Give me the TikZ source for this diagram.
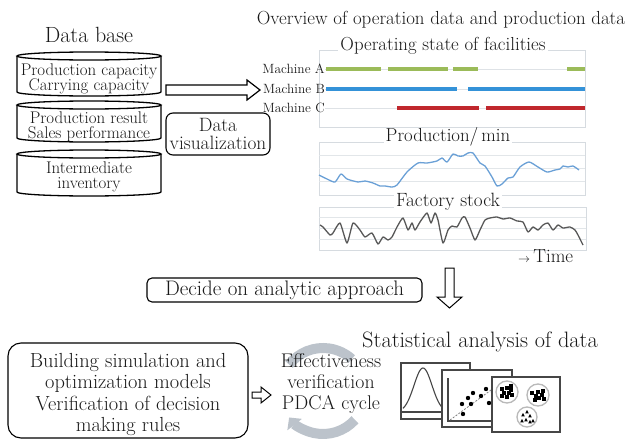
\documentclass[tikz,border=0pt]{standalone}
\usepackage{fontspec}
\usetikzlibrary{arrows.meta}
\definecolor{machA}{RGB}{155,187,89}
\definecolor{machB}{RGB}{52,146,216}
\definecolor{machC}{RGB}{192,39,45}
\definecolor{prodline}{RGB}{106,160,214}
\definecolor{stockline}{RGB}{88,88,88}
\definecolor{framegray}{RGB}{214,219,224}
\definecolor{cyclegray}{RGB}{188,195,203}
\definecolor{inkgray}{RGB}{70,70,70}
\tikzset{
  txt/.style={inner sep=0pt, align=center, text=black!90},
  fs/.style 2 args={font=\fontsize{#1}{#2}\selectfont},
  rbox/.style={draw, line width=1.1pt, rounded corners=#1},
  cylline/.style={line width=1.3pt},
  chartframe/.style={draw=framegray, line width=1pt},
  gridline/.style={draw=framegray!70, line width=0.6pt},
  rowline/.style={draw=framegray!80, line width=0.8pt},
  seg/.style={line width=4pt, draw=#1},
  blockarrow/.style={draw, line width=1.2pt, fill=white, line join=miter},
  statframe/.style={draw=inkgray, line width=1.2pt, fill=white},
  cluster/.style={draw=gray!55, line width=1.3pt},
}
\newcommand{\cylinder}[3]{% top y, bottom y, name
  \draw[cylline] (17,#1) -- (17,#2) arc[start angle=180, end angle=360, x radius=72pt, y radius=4pt] -- (161,#1);
  \draw[cylline, fill=white] (89,#1) ellipse[x radius=72pt, y radius=4pt];
  \coordinate (#3) at (89,{(#1+#2)/2});
}
\begin{document}
\begin{tikzpicture}[x=1pt, y=-1pt]
\useasboundingbox (0,0) rectangle (627,439);

% ---------------- database ----------------
\node[txt, fs={22}{22}] (dbtitle) at (89,35) {Data base};
\cylinder{56}{92}{cylA}
\cylinder{105}{138}{cylB}
\cylinder{154}{192}{cylC}
\node[txt, fs={16.9}{15.5}] (capa) at (89,79) {Production capacity\\Carrying capacity};
\node[txt, fs={16.9}{15.5}] (result) at (89,127) {Production result\\Sales performance};
\node[txt, fs={16.9}{15.5}] (inv) at (89,177) {Intermediate\\inventory};

% arrow to the charts
\coordinate (arrS) at (166,90);
\coordinate (arrE) at (260,90);
\draw[blockarrow] (166,85) -- (247,85) -- (247,80) -- (arrE) -- (247,100) -- (247,95) -- (166,95) -- cycle;

\node[rbox=7pt, minimum width=104pt, minimum height=42pt, inner sep=0pt] (visbox) at (218,134) {};
\node[txt, fs={19.3}{18}] (vis) at (visbox) {Data\\visualization};

% ---------------- overview charts ----------------
\node[txt, fs={18.9}{19}] (overview) at (441,20) {Overview of operation data and production data};

% operating state
\draw[chartframe] (319,50) rectangle (585,127);
\node[txt, fs={18.85}{19}, fill=white, inner xsep=2pt] (opstate) at (443,46) {Operating state of facilities};
\foreach \y/\n in {69/A, 89/B, 108/C}{
  \node[txt, fs={13.4}{14}, anchor=east] (mach\n) at (325,\y) {Machine \n};
  \draw[rowline] (325,\y) -- (585,\y);
}
\foreach \a/\b in {326/381, 388/448, 453/478, 567/585}{\draw[seg=machA] (\a,69) -- (\b,69);}
\foreach \a/\b in {326/457, 468/585}{\draw[seg=machB] (\a,89) -- (\b,89);}
\foreach \a/\b in {397/479, 486/585}{\draw[seg=machC] (\a,108) -- (\b,108);}

% production per minute
\draw[chartframe] (319,142) rectangle (585,195);
\foreach \y in {155,168,181}{\draw[gridline] (319,\y) -- (585,\y);}
\draw[prodline, line width=1.3pt, line join=round] plot[smooth, tension=0.4] coordinates {
 (319,175) (327,179) (335,182) (341,174) (347,179) (358,182) (365,181) (373,183)
 (380,186) (385,186) (392,187) (397,185) (407,172) (418,163) (427,163) (437,161)
 (442,158) (447,162) (453,154) (458,156) (463,156) (468,153) (473,153) (480,163)
 (485,166) (492,177) (497,186) (502,184) (508,178) (513,177) (520,167) (529,162)
 (538,167) (547,172) (555,170) (560,169) (563,166) (568,167) (573,166) (579,170)};
\node[txt, fs={18.8}{19}, fill=white, inner xsep=2pt] (prodtitle) at (448,137) {Production/\,min};

% factory stock
\draw[chartframe] (319,207) rectangle (586,250);
\foreach \y in {217,228,239}{\draw[gridline] (319,\y) -- (586,\y);}
\draw[stockline, line width=1.3pt, line join=round] plot[smooth, tension=0.35] coordinates {
 (320,225) (323,227) (330,235) (333,233) (340,223) (347,243) (353,223) (360,230)
 (365,237) (372,233) (378,244) (383,237) (388,240) (392,237) (397,227) (403,218)
 (408,230) (412,223) (415,230) (420,222) (427,213) (431,223) (435,213) (438,220)
 (443,243) (448,230) (452,226) (457,227) (462,218) (465,217) (470,228) (475,240)
 (480,230) (485,220) (490,218) (497,217) (503,219) (510,218) (517,221) (523,222)
 (528,232) (533,227) (538,230) (543,225) (548,223) (553,230) (558,225) (563,228)
 (570,227) (575,230) (578,235) (583,245)};
\node[txt, fs={19.2}{19}, fill=white, inner xsep=2pt] (stocktitle) at (448,202) {Factory stock};
\node[txt, fs={19}{19}, anchor=west] (time) at (518,256) {{\fontsize{13}{13}\selectfont$\rightarrow$}\,Time};

% ---------------- analytic approach ----------------
\node[rbox=5pt, minimum width=275pt, minimum height=24pt, inner sep=0pt] (decidebox) at (284.5,290) {};
\node[txt, fs={21}{21}] (decide) at (decidebox) {Decide on analytic approach};
\coordinate (downS) at (449.5,268);
\coordinate (downE) at (449.5,308);
\draw[blockarrow, line width=1pt] (445,268) -- (454,268) -- (454,297) -- (462,297) -- (downE) -- (437,297) -- (445,297) -- cycle;

% ---------------- statistics ----------------
\node[txt, fs={22.3}{22}] (stattitle) at (480,342) {Statistical analysis of data};

% PDCA cycle arrows
\draw[cyclegray, line width=10pt] (323,391) ++(142:43pt) arc[start angle=142, end angle=48, radius=43pt];
\draw[cyclegray, line width=10pt, -{Triangle[length=9pt, width=18pt]}] (323,391) ++(318:43pt) arc[start angle=318, end angle=218, radius=43pt];
\node[txt, fs={19.8}{21}] (pdca) at (331,384) {Effectiveness\\verification\\PDCA cycle};

% modelling box
\node[rbox=13pt, minimum width=240pt, minimum height=95pt, inner sep=0pt] (modelbox) at (128,390.5) {};
\node[txt, fs={20.4}{21.5}] (model) at (128,394.5) {Building simulation and\\optimization models\\Verification of decision\\making rules};
\draw[blockarrow, line width=1pt] (252,392) -- (261,392) -- (261,387) -- (271,395) -- (261,403) -- (261,398) -- (252,398) -- cycle;

% distribution
\draw[statframe] (401,363) rectangle (470,419);
\draw[inkgray, line width=1.1pt] (401,412) -- (470,412);
\draw[inkgray, line width=1.1pt] plot[domain=403:468, samples=60, smooth] (\x, {412-44*exp(-((\x-423)/9)^2/2)});
% scatter
\draw[statframe] (442,370) rectangle (512,427);
\draw[inkgray, line width=1.1pt] (448,378) -- (448,421) -- (500,421);
\draw[gray, line width=0.8pt, dash pattern=on 2pt off 1.5pt] (450,420) -- (502,382);
\foreach \p in {(462,404),(471,404),(463,414),(473,393),(486,389),(489,403),(468,398),(481,396),(493,392)}{
  \fill \p circle (2.2);
}
% clusters
\draw[statframe] (492,377) rectangle (560,432);
\draw[cluster] (507,392) circle (11);
\draw[cluster] (538,395) circle (11);
\draw[cluster] (527,417) circle (10);
\foreach \dx/\dy in {-5/-3, 0/-4, 4/-2, -3/1, 2/1, 5/3, 0/5, -5/4, 4/-6}{
  \fill (507+\dx-1.7,392+\dy-1.7) rectangle ++(3.4,3.4);
}
\foreach \dx/\dy in {-6/-2, -2/1, 1/3, 4/0, 5/-4, 0/-3, -3/5, 6/4}{
  \fill (538+\dx-1.6,395+\dy-1.6) rectangle ++(3.2,3.2);
}
\foreach \dx/\dy in {-4/-2, 0/-5, 3/-1, -5/4, -1/3, 3/5, 6/4}{
  \fill (527+\dx-1.8,417+\dy+1.4) -- ++(3.6,0) -- ++(-1.8,-3.4) -- cycle;
}
\end{tikzpicture}
\end{document}
